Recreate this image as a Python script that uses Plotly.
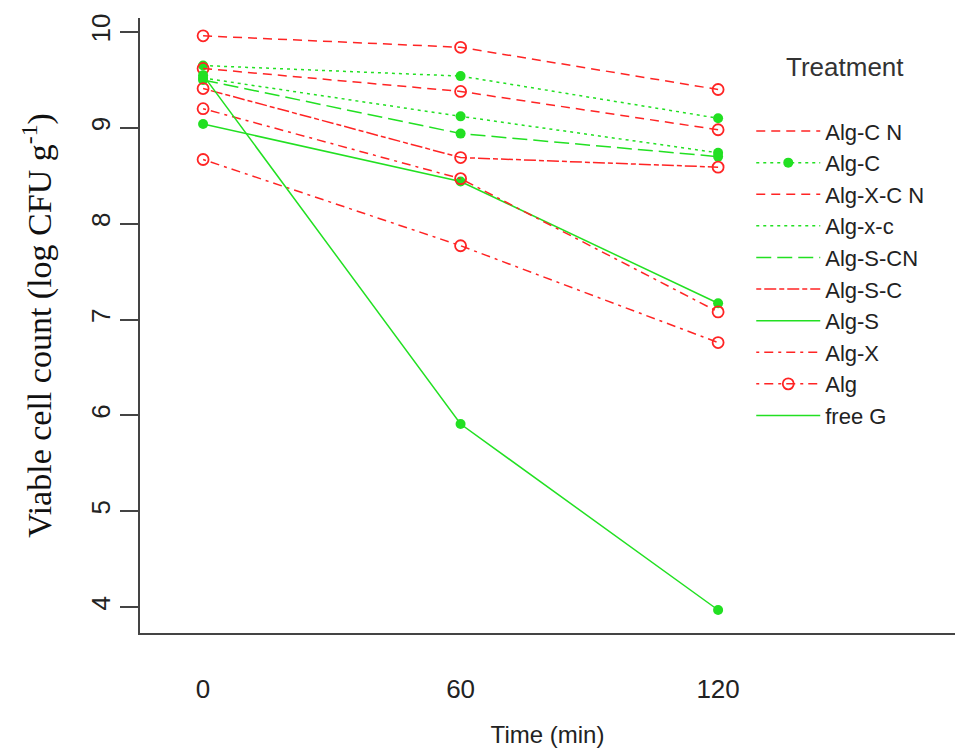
import plotly.graph_objects as go

time_labels = ["0", "60", "120"]
treatments = ["Alg-C N", "Alg-C", "Alg-X-C N", "Alg-x-c", "Alg-S-CN",
              "Alg-S-C", "Alg-S", "Alg-X", "Alg", "free G"]
alg_c_n = [9.96, 9.84, 9.40]
alg_c = [9.65, 9.54, 9.10]
alg_x_c_n = [9.62, 9.38, 8.98]
alg_x_c = [9.52, 9.12, 8.74]
alg_s_cn = [9.50, 8.94, 8.70]
alg_s_c = [9.41, 8.69, 8.59]
alg_s = [9.04, 8.44, 7.17]
alg_x = [9.20, 8.47, 7.08]
alg = [8.67, 7.77, 6.76]
free_g = [9.55, 5.91, 3.97]
series = [alg_c_n, alg_c, alg_x_c_n, alg_x_c, alg_s_cn,
          alg_s_c, alg_s, alg_x, alg, free_g]

RED = "#FF2424"
GREEN = "#22E022"
DASHED = "9px,6px"
DOTTED = "3px,4px"
LONGDASH = "15px,6px"
TWODASH = "5px,3px,12px,3px"
DOTDASH = "3px,5px,9px,5px"

styles = {
    "Alg-C N": (RED, DASHED, False),
    "Alg-C": (GREEN, DOTTED, True),
    "Alg-X-C N": (RED, DASHED, False),
    "Alg-x-c": (GREEN, DOTTED, True),
    "Alg-S-CN": (GREEN, LONGDASH, True),
    "Alg-S-C": (RED, TWODASH, False),
    "Alg-S": (GREEN, "solid", True),
    "Alg-X": (RED, DOTDASH, False),
    "Alg": (RED, DOTDASH, False),
    "free G": (GREEN, "solid", True),
}
legend_markers = {"Alg-C", "Alg"}


def marker_for(col, filled):
    if filled:
        return dict(size=10, color=col, symbol="circle")
    return dict(size=11, color=col, symbol="circle-open", line=dict(width=1.8))


fig = go.Figure()
for name, vals in zip(treatments, series):
    col, dash, filled = styles[name]
    fig.add_trace(go.Scatter(x=time_labels, y=vals, mode="lines+markers",
                             line=dict(color=col, dash=dash, width=1.5),
                             marker=marker_for(col, filled),
                             showlegend=False, name=name))

for name in treatments:
    col, dash, filled = styles[name]
    mode = "lines+markers" if name in legend_markers else "lines"
    fig.add_trace(go.Scatter(x=[None], y=[None], mode=mode, name=name,
                             line=dict(color=col, dash=dash, width=1.5),
                             marker=marker_for(col, filled), showlegend=True))

fig.update_layout(
    width=971, height=748,
    margin=dict(l=140, r=16, t=18, b=115),
    paper_bgcolor="white", plot_bgcolor="white",
    font=dict(family="Liberation Sans, Arial, sans-serif", color="#222222"),
    legend=dict(
        font=dict(size=22, color="#222222"),
        x=0.75, xanchor="left", y=0.85, yanchor="top",
        itemwidth=64, bgcolor="rgba(0,0,0,0)",
    ),
    annotations=[dict(text="Treatment", xref="paper", yref="paper",
                      x=0.865, y=0.92, xanchor="center", yanchor="middle",
                      showarrow=False, font=dict(size=26, color="#333333"))],
)
fig.update_xaxes(
    type="category", range=[-0.245, 2.92], automargin=False,
    showline=True, linecolor="#444444", linewidth=1.6,
    showgrid=False, zeroline=False, ticks="",
    tickfont=dict(size=26, color="#222222"), ticklabelstandoff=32,
    title=dict(text="Time (min)", font=dict(size=24, color="#222222"), standoff=28),
)
fig.update_yaxes(
    range=[3.73, 10.146], tickvals=[4, 5, 6, 7, 8, 9, 10], automargin=False,
    showline=True, linecolor="#444444", linewidth=1.6,
    showgrid=False, zeroline=False,
    ticks="outside", ticklen=18, tickwidth=1.6, tickcolor="#444444",
    tickangle=-90, tickfont=dict(size=26, color="#222222"),
    title=dict(text="Viable cell count (log CFU g<sup>-1</sup>)",
               font=dict(family="Liberation Serif, Times New Roman, serif", size=34, color="#111111"),
               standoff=24),
)

fig.write_html("out.html")
